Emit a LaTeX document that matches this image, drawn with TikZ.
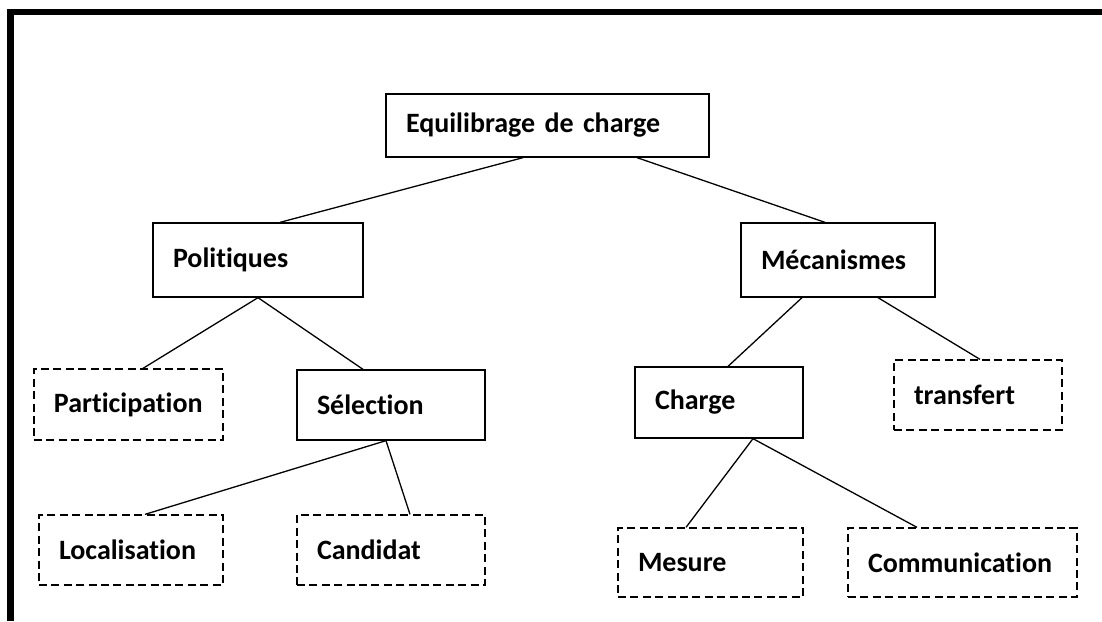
\documentclass[tikz,border=0pt]{standalone}
\usepackage{fontspec}
\setmainfont[Ligatures=NoCommon]{Carlito}
\tikzset{
  solidbox/.style={draw, line width=0.65pt, align=left, inner xsep=10pt,
    font=\fontsize{14}{17}\selectfont\bfseries},
  dashbox/.style={solidbox, dash pattern=on 4pt off 2.2pt},
  link/.style={line width=0.65pt}
}
\begin{document}
\begin{tikzpicture}[x=0.5pt, y=-0.5pt]
        \useasboundingbox (0,0) rectangle (1102,621);
        % Frame
        \draw[line width=3.3pt] (10.5,621) |- (1102,12);
        % Boxes
        \node[solidbox, minimum width=161.5pt, minimum height=31.5pt, text width=141.5pt] (eq) at (547.5,125.5) {Equilibrage de charge};
        \node[solidbox, minimum width=105pt, minimum height=37pt, text width=85pt] (pol) at (258,260) {Politiques};
        \node[solidbox, minimum width=97pt, minimum height=37pt, text width=77pt] (mec) at (838,260) {Mécanismes};
        \node[dashbox, minimum width=94.5pt, minimum height=35.5pt, text width=74.5pt] (part) at (128.5,404.5) {Participation};
        \node[solidbox, minimum width=94pt, minimum height=35pt, text width=74pt] (sel) at (391,405) {Sélection};
        \node[solidbox, minimum width=84pt, minimum height=35.5pt, text width=64pt] (chg) at (719,402.5) {Charge};
        \node[dashbox, minimum width=84pt, minimum height=35pt, text width=64pt] (trans) at (978,395) {transfert};
        \node[dashbox, minimum width=92pt, minimum height=35pt, text width=72pt] (loc) at (131,550) {Localisation};
        \node[dashbox, minimum width=94pt, minimum height=35pt, text width=74pt] (cand) at (391,550) {Candidat};
        \node[dashbox, minimum width=92.5pt, minimum height=34.5pt, text width=72.5pt] (mes) at (710.5,562.5) {Mesure};
        \node[dashbox, minimum width=114.5pt, minimum height=34.5pt, text width=94.5pt] (comm) at (962.5,562.5) {Communication};
        % Links
        \draw[link] ([xshift=-12.25pt]eq.south) -- ([xshift=11pt]pol.north);
        \draw[link] ([xshift=44.75pt]eq.south) -- ([xshift=-6.5pt]mec.north);
        \draw[link] (pol.south) -- ([xshift=7.25pt]part.north);
        \draw[link] (pol.south) -- ([xshift=-14pt]sel.north);
        \draw[link] ([xshift=-2.5pt]sel.south) -- ([xshift=7pt]loc.north);
        \draw[link] ([xshift=-2.5pt]sel.south) -- ([xshift=9.5pt]cand.north);
        \draw[link] ([xshift=-18pt]mec.south) -- ([xshift=4.5pt]chg.north);
        \draw[link] ([xshift=20pt]mec.south) -- ([xshift=1pt]trans.north);
        \draw[link] ([xshift=17pt]chg.south) -- ([xshift=-12.25pt]mes.north);
        \draw[link] ([xshift=17pt]chg.south) -- ([xshift=-22.75pt]comm.north);
\end{tikzpicture}
\end{document}
